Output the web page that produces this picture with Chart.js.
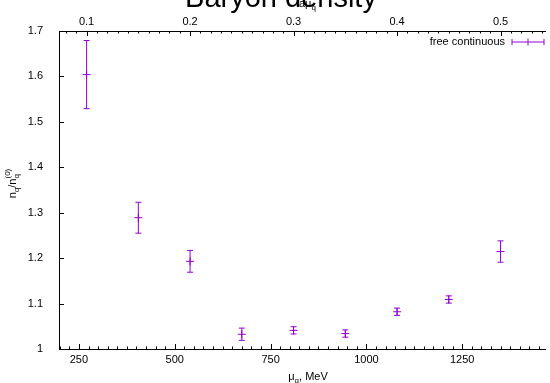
<!DOCTYPE html>
<html lang="en">
<head>
<meta charset="UTF-8">
<title>Baryon density</title>
<style>
  html, body { margin: 0; padding: 0; background: #fff; }
  canvas { display: block; }
</style>
</head>
<body>
<canvas id="densityChart" width="550" height="383"></canvas>
<script src="https://cdn.jsdelivr.net/npm/chart.js@4.4.6/dist/chart.umd.min.js"></script>
<script>
    // quark chemical potential, MeV, and n_q / n_q^(0) with errors
    const muQ = [270, 405, 540, 675, 810, 945, 1080, 1215, 1350];
    const density = [1.604, 1.289, 1.193, 1.0325, 1.041, 1.034, 1.082, 1.109, 1.2145];
    const densityErr = [0.075, 0.034, 0.024, 0.0135, 0.008, 0.008, 0.008, 0.008, 0.0235];

    const muTicks = [250, 500, 750, 1000, 1250];
    const aMuTicks = [0.1, 0.2, 0.3, 0.4, 0.5];
    const ratioTicks = [1, 1.1, 1.2, 1.3, 1.4, 1.5, 1.6, 1.7];
    const muRange = [198, 1466];
    const muPerA = 2700; // a*mu_q -> mu_q in MeV

    const purple = '#9400d3';
    const family = '"Liberation Sans", Arial, sans-serif';

    function drawParts(ctx, parts, x, y) {
        // parts: [text, size, dy]
        let cx = x;
        for (const [t, size, dy] of parts) {
            ctx.font = size + 'px ' + family;
            ctx.fillText(t, cx, y + dy);
            cx += ctx.measureText(t).width;
        }
        return cx;
    }

    function partsWidth(ctx, parts) {
        let w = 0;
        for (const [t, size] of parts) {
            ctx.font = size + 'px ' + family;
            w += ctx.measureText(t).width;
        }
        return w;
    }

    const decorations = {
        id: 'decorations',
        afterDatasetsDraw(chart) {
            const { ctx, scales: { x, y } } = chart;
            ctx.save();
            ctx.strokeStyle = purple;
            ctx.lineWidth = 1;
            muQ.forEach((m, i) => {
                const px = x.getPixelForValue(m);
                const top = y.getPixelForValue(density[i] + densityErr[i]);
                const bot = y.getPixelForValue(density[i] - densityErr[i]);
                ctx.beginPath();
                ctx.moveTo(px, top); ctx.lineTo(px, bot);
                ctx.moveTo(px - 3, top); ctx.lineTo(px + 3, top);
                ctx.moveTo(px - 3, bot); ctx.lineTo(px + 3, bot);
                ctx.stroke();
            });
            ctx.restore();
        },
        afterDraw(chart) {
            const { ctx, chartArea: area, scales: { x, x2, y } } = chart;
            ctx.save();

            // inward tick marks
            ctx.strokeStyle = '#000';
            ctx.lineWidth = 1;
            ctx.beginPath();
            for (let v = 200; v <= x.max; v += 25) {
                const px = Math.round(x.getPixelForValue(v)) + 0.5;
                const len = v % 250 === 0 ? 5 : 2.5;
                ctx.moveTo(px, area.bottom); ctx.lineTo(px, area.bottom - len);
            }
            for (let k = Math.ceil(x2.min * 100); k <= Math.floor(x2.max * 100); k++) {
                const px = Math.round(x2.getPixelForValue(k / 100)) + 0.5;
                const len = k % 10 === 0 ? 5 : 2.5;
                ctx.moveTo(px, area.top); ctx.lineTo(px, area.top + len);
            }
            ratioTicks.forEach(v => {
                const py = Math.round(y.getPixelForValue(v)) + 0.5;
                ctx.moveTo(area.left, py); ctx.lineTo(area.left + 5, py);
            });
            ctx.stroke();

            ctx.fillStyle = '#000';
            ctx.textBaseline = 'alphabetic';
            ctx.textAlign = 'left';

            // x axis title
            const xParts = [['\u03bc', 11, 0], ['q', 8, 3], [', MeV', 11, 0]];
            drawParts(ctx, xParts, 308 - partsWidth(ctx, xParts) / 2, 380);

            // top axis title, mostly hidden by the plot title
            drawParts(ctx, [['a\u03bc', 11, 0], ['q', 8, 3]], 299, 7);

            // y axis title
            ctx.save();
            ctx.translate(16, 183.5);
            ctx.rotate(-Math.PI / 2);
            const yMain = [['n', 11, 0], ['q', 8, 3], ['/n', 11, 0]];
            ctx.font = '8px ' + family;
            const supW = ctx.measureText('(0)').width;
            const total = partsWidth(ctx, yMain) + supW;
            let cx = drawParts(ctx, yMain, -total / 2, 0);
            ctx.font = '8px ' + family;
            ctx.fillText('q', cx, 3);
            ctx.fillText('(0)', cx, -6);
            ctx.restore();

            // legend
            ctx.font = '11px ' + family;
            ctx.textAlign = 'right';
            ctx.textBaseline = 'middle';
            ctx.fillText(chart.data.datasets[0].label, 505, 42);
            ctx.strokeStyle = purple;
            ctx.beginPath();
            ctx.moveTo(512, 42); ctx.lineTo(544, 42);
            ctx.moveTo(512, 39); ctx.lineTo(512, 45);
            ctx.moveTo(544, 39); ctx.lineTo(544, 45);
            ctx.moveTo(528, 38.5); ctx.lineTo(528, 45.5);
            ctx.stroke();

            // plot title
            ctx.font = '29px ' + family;
            ctx.textAlign = 'center';
            ctx.textBaseline = 'alphabetic';
            ctx.fillText('Baryon density', 281, 7);
            ctx.restore();
        }
    };

    const tickFont = { family: family, size: 11 };

    new Chart(document.getElementById('densityChart'), {
        type: 'scatter',
        data: {
            datasets: [{
                label: 'free continuous',
                data: muQ.map((m, i) => ({ x: m, y: density[i] })),
                pointStyle: 'cross',
                pointRadius: 4,
                pointHoverRadius: 4,
                borderColor: purple,
                borderWidth: 1,
            }]
        },
        options: {
            responsive: false,
            animation: false,
            events: [],
            layout: { padding: 0 },
            plugins: {
                legend: { display: false },
                title: { display: false },
                tooltip: { enabled: false },
            },
            scales: {
                x: {
                    type: 'linear',
                    position: 'bottom',
                    min: muRange[0],
                    max: muRange[1],
                    grid: { display: false },
                    border: { color: '#000' },
                    ticks: { font: tickFont, color: '#000', padding: -3.5, autoSkip: false, maxRotation: 0, callback: v => String(v) },
                    afterBuildTicks: s => { s.ticks = muTicks.map(v => ({ value: v })); },
                    afterFit: s => { s.height = 34; },
                },
                x2: {
                    type: 'linear',
                    position: 'top',
                    min: muRange[0] / muPerA,
                    max: muRange[1] / muPerA,
                    grid: { display: false },
                    border: { color: '#000' },
                    ticks: { font: tickFont, color: '#000', padding: -5.5, autoSkip: false, maxRotation: 0, callback: v => String(v) },
                    afterBuildTicks: s => { s.ticks = aMuTicks.map(v => ({ value: v })); },
                    afterFit: s => { s.height = 31; },
                },
                y: {
                    min: 1,
                    max: 1.7,
                    grid: { display: false },
                    border: { color: '#000' },
                    ticks: { font: tickFont, color: '#000', padding: 8, callback: v => String(v) },
                    afterBuildTicks: s => { s.ticks = ratioTicks.map(v => ({ value: v })); },
                    afterFit: s => { s.width = 59; },
                }
            }
        },
        plugins: [decorations]
    });
</script>
</body>
</html>
